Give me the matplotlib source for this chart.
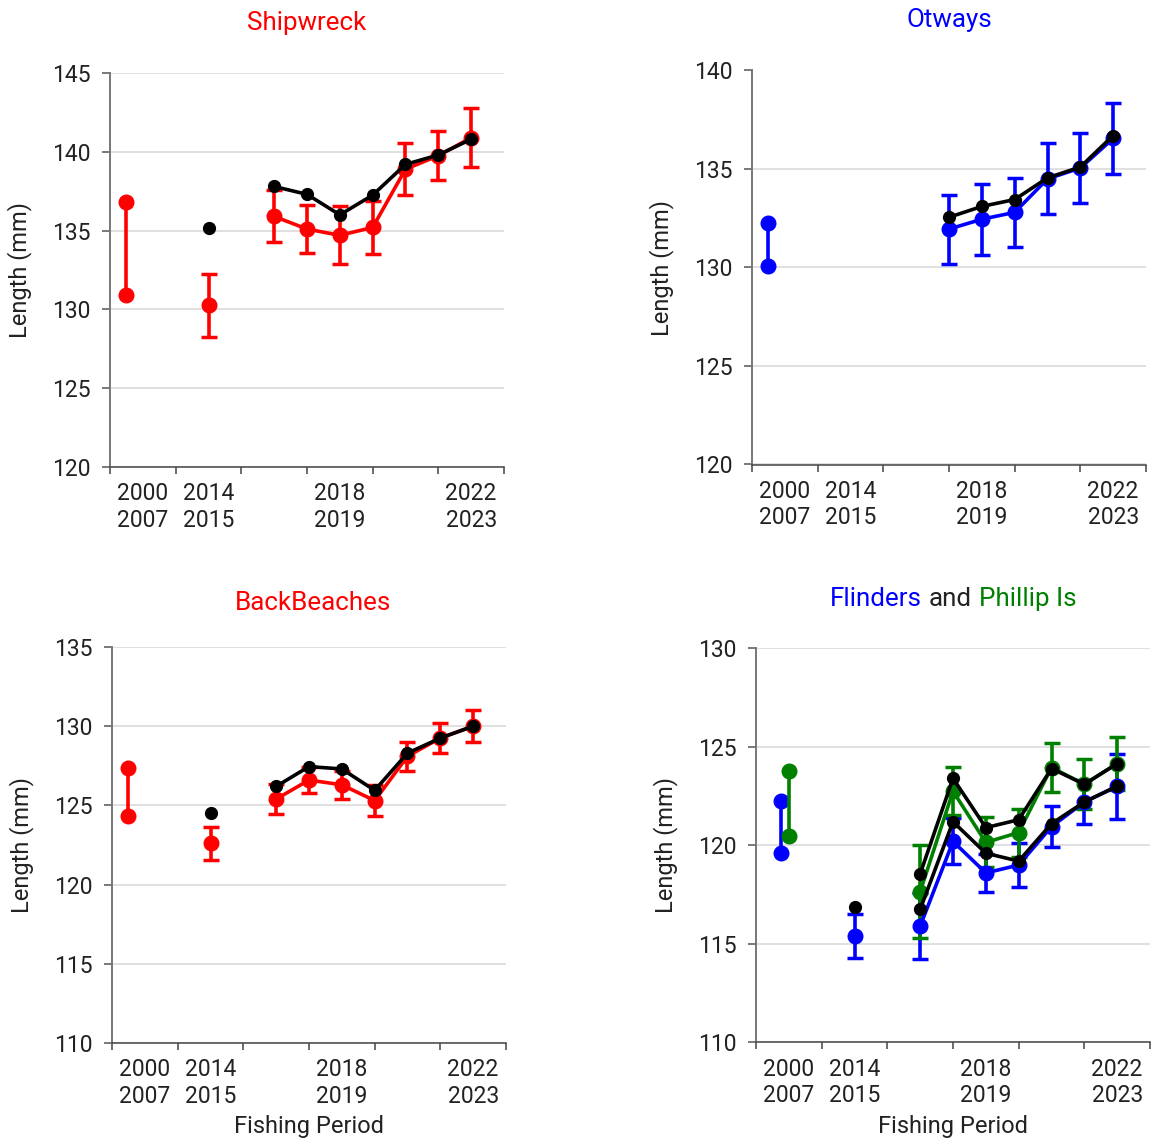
import matplotlib
matplotlib.use("Agg")
import matplotlib.pyplot as plt
from matplotlib.offsetbox import TextArea, HPacker, AnchoredOffsetbox

plt.rcParams['font.family'] = ['Roboto', 'DejaVu Sans']

RED = '#ff0000'
BLUE = '#0000ff'
GREEN = '#008000'
BLACK = '#000000'
TEXT = '#222222'
FS = 16.5
FS_LABEL = 17
FS_TITLE = 18.7

# Fishing periods along the x axis
period_labels = ["2000\n2007", "2014\n2015", "2018\n2019", "2022\n2023"]
period_label_pos = [1, 3, 7, 11]
early_pos = 0.5
early_pos_flinders = [0.75, 1.0]
pos_2014 = 3
season_pos = [5, 6, 7, 8, 9, 10, 11]
otways_pos = [6, 7, 8, 9, 10, 11]

# Shipwreck
ship_early = [136.8, 130.9]
ship_2014_mean = 130.25
ship_2014_err = 2.0
ship_2014_adj = 135.15
ship_mean = [135.9, 135.1, 134.7, 135.2, 138.9, 139.75, 140.9]
ship_err = [1.65, 1.5, 1.85, 1.7, 1.65, 1.55, 1.85]
ship_adj = [137.8, 137.3, 136.0, 137.25, 139.2, 139.8, 140.8]

# Otways
otw_early = [132.25, 130.1]
otw_mean = [131.95, 132.45, 132.8, 134.5, 135.05, 136.55]
otw_err = [1.75, 1.8, 1.75, 1.8, 1.8, 1.8]
otw_adj = [132.55, 133.1, 133.45, 134.55, 135.1, 136.7]

# BackBeaches
bb_early = [127.35, 124.35]
bb_2014_mean = 122.6
bb_2014_err = 1.05
bb_2014_adj = 124.55
bb_mean = [125.4, 126.6, 126.3, 125.3, 128.1, 129.25, 130.0]
bb_err = [0.95, 0.82, 0.9, 1.0, 0.9, 0.96, 1.02]
bb_adj = [126.2, 127.45, 127.3, 125.95, 128.3, 129.25, 130.0]

# Flinders (blue) and Phillip Is (green)
fl_early = [122.25, 119.6]
pi_early = [123.75, 120.45]
fl_2014_mean = 115.4
fl_2014_err = 1.12
fl_2014_adj = 116.85
fl_mean = [115.9, 120.2, 118.6, 119.0, 120.95, 122.2, 123.0]
fl_err = [1.68, 1.17, 0.98, 1.11, 1.05, 1.1, 1.66]
pi_mean = [117.65, 122.75, 120.15, 120.65, 123.95, 123.1, 124.15]
pi_err = [2.35, 1.23, 1.27, 1.22, 1.24, 1.26, 1.36]
pi_adj = [118.55, 123.4, 120.9, 121.3, 123.9, 123.1, 124.15]
fl_adj = [116.75, 121.2, 119.6, 119.2, 121.1, 122.2, 123.0]

LW = 2.6
MS_COL = 10.5
MS_BLK = 8.5


def style_axes(ax, ylim, ystep, bottom_row):
    ax.set_xlim(0, 12)
    ax.set_ylim(*ylim)
    ax.set_yticks(range(ylim[0], ylim[1] + 1, ystep))
    ax.set_xticks(range(0, 13, 2))
    ax.set_xticklabels([])
    ax.set_xticks(period_label_pos, minor=True)
    ax.set_xticklabels(period_labels, minor=True)
    ax.tick_params(axis='x', which='major', length=5, width=1.1, color='#444444', direction='out')
    ax.tick_params(axis='x', which='minor', length=0, pad=11, labelsize=FS, labelcolor=TEXT)
    ax.tick_params(axis='y', length=6, width=1.1, color='#555555', pad=8, labelsize=FS, labelcolor=TEXT)
    for side in ('top', 'right'):
        ax.spines[side].set_visible(False)
    ax.spines['left'].set_color('#777777')
    ax.spines['left'].set_linewidth(1.4)
    ax.spines['bottom'].set_color('#444444')
    ax.spines['bottom'].set_linewidth(1.1)
    ax.grid(axis='y', color='#dddddd', linewidth=1.3)
    ax.set_axisbelow(True)
    ax.set_ylabel('Length (mm)', fontsize=FS_LABEL, color=TEXT)
    ax.yaxis.set_label_coords(-0.197, 0.5)
    if bottom_row:
        ax.set_xlabel('Fishing Period', fontsize=FS_LABEL, color=TEXT)
        ax.xaxis.set_label_coords(0.5, -0.183)


def series(ax, x, y, err, color, ms=MS_COL, lw=LW):
    ax.errorbar(x, y, yerr=err, color=color, lw=lw, marker='o', ms=ms,
                capsize=5.5, capthick=2.5, elinewidth=2.6, zorder=3)


def adjusted(ax, x, y):
    ax.plot(x, y, color=BLACK, lw=LW, marker='o', ms=MS_BLK, zorder=4)


def early(ax, x, y, color):
    ax.plot([x, x], y, color=color, lw=LW, marker='o', ms=MS_COL, zorder=3)


W, H = 1153, 1138
fig = plt.figure(figsize=(W / 100, H / 100), dpi=100)


def add_axes(left, top, bottom, width=394):
    return fig.add_axes([left / W, 1 - bottom / H, width / W, (bottom - top) / H])


ax1 = add_axes(110, 73, 467)
ax2 = add_axes(752, 70.5, 464.5)
ax3 = add_axes(112, 647, 1043)
ax4 = add_axes(756, 648.3, 1042.4)

# Shipwreck
style_axes(ax1, (120, 145), 5, False)
early(ax1, early_pos, ship_early, RED)
series(ax1, [pos_2014], [ship_2014_mean], [ship_2014_err], RED)
ax1.plot([pos_2014], [ship_2014_adj], 'o', color=BLACK, ms=MS_BLK, zorder=4)
series(ax1, season_pos, ship_mean, ship_err, RED)
adjusted(ax1, season_pos, ship_adj)
ax1.text(0.5, 1 + 50 / 394, 'Shipwreck', transform=ax1.transAxes, ha='center',
         va='center', fontsize=FS_TITLE, color=RED)

# Otways
style_axes(ax2, (120, 140), 5, False)
early(ax2, early_pos, otw_early, BLUE)
series(ax2, otways_pos, otw_mean, otw_err, BLUE)
adjusted(ax2, otways_pos, otw_adj)
ax2.text(0.5, 1 + 50 / 394, 'Otways', transform=ax2.transAxes, ha='center',
         va='center', fontsize=FS_TITLE, color=BLUE)

# BackBeaches
style_axes(ax3, (110, 135), 5, True)
early(ax3, early_pos, bb_early, RED)
series(ax3, [pos_2014], [bb_2014_mean], [bb_2014_err], RED)
ax3.plot([pos_2014], [bb_2014_adj], 'o', color=BLACK, ms=MS_BLK, zorder=4)
series(ax3, season_pos, bb_mean, bb_err, RED)
adjusted(ax3, season_pos, bb_adj)
ax3.text(0.51, 1 + 44 / 396, 'BackBeaches', transform=ax3.transAxes, ha='center',
         va='center', fontsize=FS_TITLE, color=RED)

# Flinders and Phillip Is
style_axes(ax4, (110, 130), 5, True)
early(ax4, early_pos_flinders[0], fl_early, BLUE)
early(ax4, early_pos_flinders[1], pi_early, GREEN)
series(ax4, [pos_2014], [fl_2014_mean], [fl_2014_err], BLUE)
ax4.plot([pos_2014], [fl_2014_adj], 'o', color=BLACK, ms=MS_BLK, zorder=4)
series(ax4, season_pos, fl_mean, fl_err, BLUE)
series(ax4, season_pos, pi_mean, pi_err, GREEN)
adjusted(ax4, season_pos, pi_adj)
adjusted(ax4, season_pos, fl_adj)

title_parts = [TextArea('Flinders', textprops=dict(color=BLUE, fontsize=FS_TITLE)),
               TextArea('and', textprops=dict(color=TEXT, fontsize=FS_TITLE)),
               TextArea('Phillip Is', textprops=dict(color=GREEN, fontsize=FS_TITLE))]
title_box = HPacker(children=title_parts, align='baseline', pad=0, sep=5)
anchored = AnchoredOffsetbox(loc='center', child=title_box, pad=0, borderpad=0,
                             frameon=False, bbox_to_anchor=(0.5, 1 + 49 / 394),
                             bbox_transform=ax4.transAxes)
ax4.add_artist(anchored)

fig.savefig('out.png', dpi=100, facecolor='white')
